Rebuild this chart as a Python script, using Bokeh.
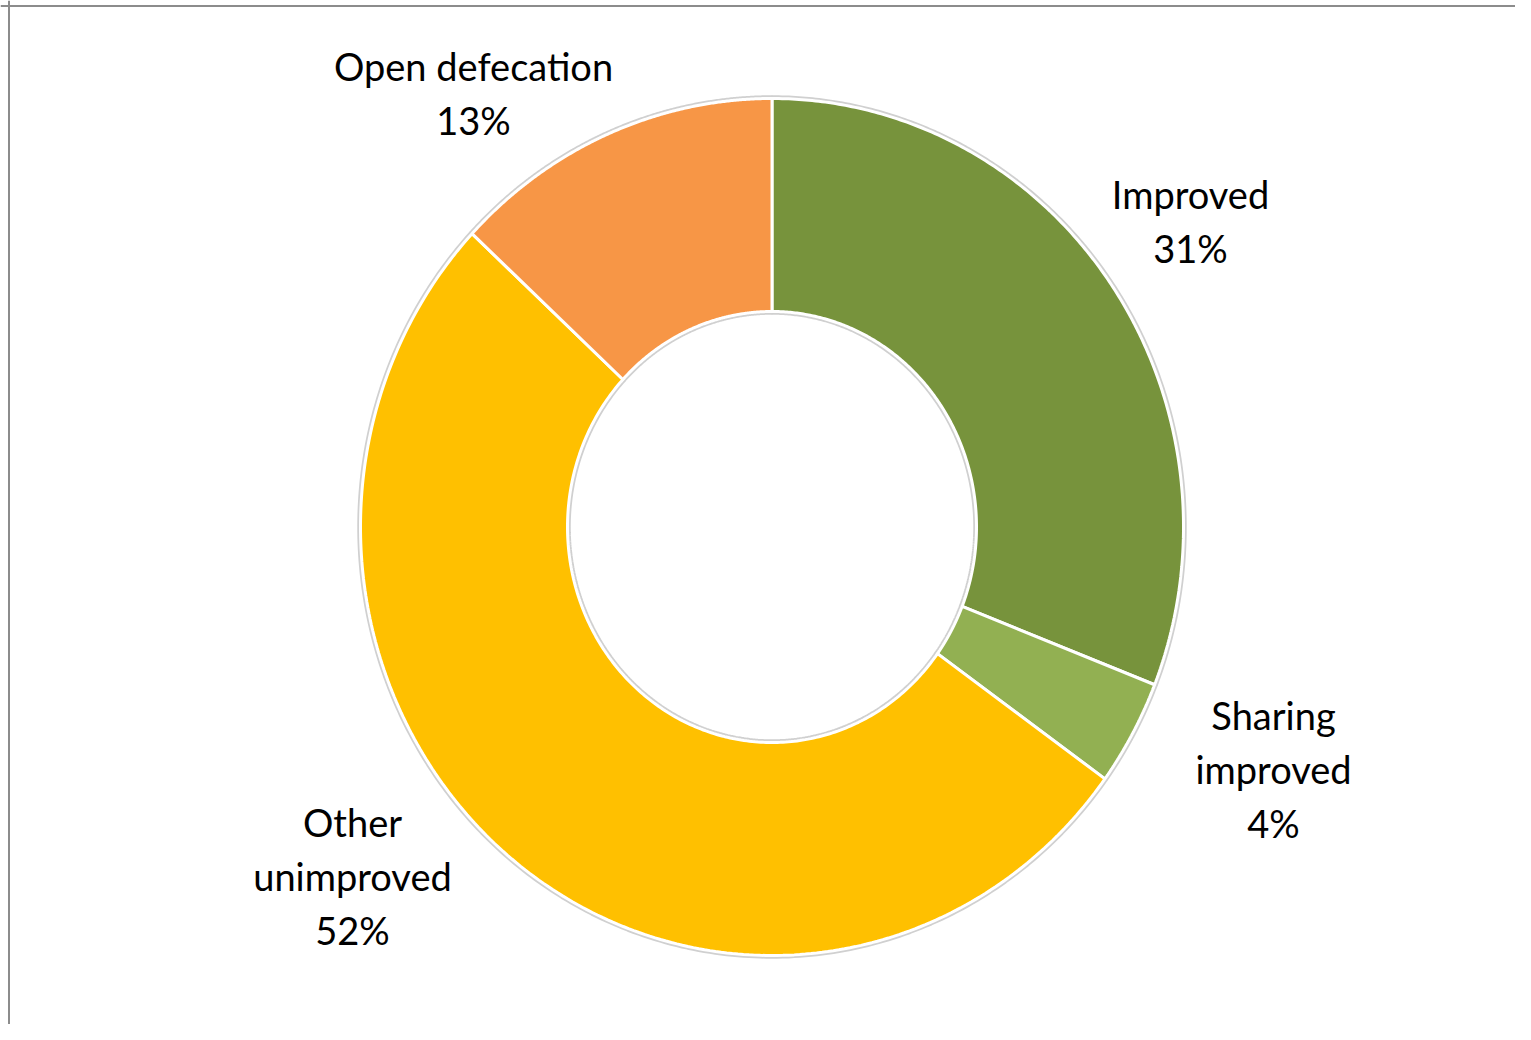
import numpy as np
from bokeh.plotting import figure
from bokeh.models import Range1d, Span, ColumnDataSource
from bokeh.core.properties import value
from bokeh.embed import file_html
from bokeh.resources import INLINE

# ---- data ----
categories = ["Improved", "Sharing improved", "Other unimproved", "Open defecation"]
values = [31, 4, 52, 13]
colors = ["#77933C", "#92B052", "#FFC000", "#F79646"]
label_lines = [["Improved"], ["Sharing", "improved"], ["Other", "unimproved"], ["Open defecation"]]

# ---- layout constants (pixels) ----
W, H = 1515, 1024
cx, cy = 771.5, H - 526.5
rx_out, ry_out = 411.5, 428.5
rx_in, ry_in = 204.5, 215.5
label_pos = [(1190, H - 220), (1273, H - 768.5), (352, H - 875), (473, H - 92.5)]
FONT = "Lato"
FS = 38
LINE_H = 54

p = figure(width=W, height=H, output_backend="svg", toolbar_location=None,
           x_range=Range1d(0, W), y_range=Range1d(0, H), min_border=0)
p.xaxis.visible = False
p.yaxis.visible = False
p.grid.visible = False
p.outline_line_color = None
p.background_fill_color = "white"
p.border_fill_color = "white"

total = float(sum(values))
fr = np.cumsum([0] + values) / total
xs, ys = [], []
for i in range(len(values)):
    t = np.linspace(fr[i], fr[i + 1], 240) * 2 * np.pi
    ox = cx + rx_out * np.sin(t)
    oy = cy + ry_out * np.cos(t)
    ix = cx + rx_in * np.sin(t[::-1])
    iy = cy + ry_in * np.cos(t[::-1])
    xs.append(list(np.concatenate([ox, ix])))
    ys.append(list(np.concatenate([oy, iy])))

src = ColumnDataSource(dict(xs=xs, ys=ys, color=colors, cat=categories))
p.patches("xs", "ys", source=src, fill_color="color", line_color="#d0d0d0", line_width=6.5)
p.patches("xs", "ys", source=src, fill_color="color", line_color="white", line_width=3)

# labels
tx, ty, tt = [], [], []
for i, cat in enumerate(categories):
    lines = label_lines[i] + ["%d%%" % values[i]]
    x0, y0 = label_pos[i]
    n = len(lines)
    for j, ln in enumerate(lines):
        tx.append(x0)
        ty.append(y0 + ((n - 1) / 2 - j) * LINE_H)
        tt.append(ln)
p.text(x=tx, y=ty, text=tt, text_align="center", text_baseline="middle",
       text_font=value(FONT), text_font_size="%dpx" % FS, text_color="black")

# chart border (top/left visible in reference)
p.add_layout(Span(location=8.5, dimension="height", line_color="#8c8c8c", line_width=2))
p.add_layout(Span(location=H - 5.5, dimension="width", line_color="#8c8c8c", line_width=2))

open("out.html", "w").write(file_html(p, INLINE))
